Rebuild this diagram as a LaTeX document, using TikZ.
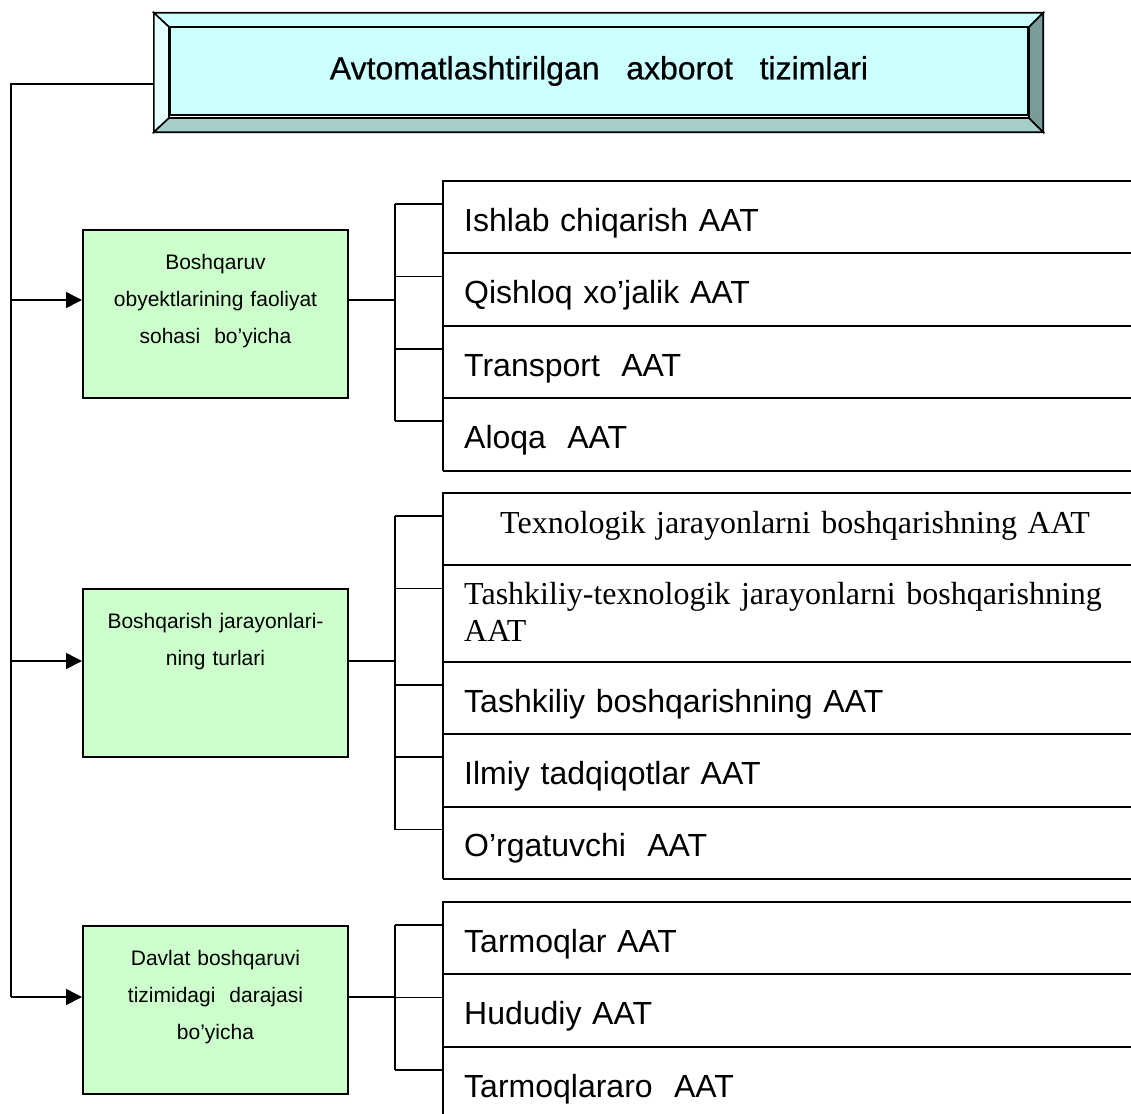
\documentclass[tikz,border=0pt]{standalone}
\usepackage{fontspec}
\setmainfont{Liberation Sans}
\newfontfamily\timesfont{Liberation Serif}
\newfontfamily\titlefont[FakeBold=0.6]{Liberation Sans}
\usetikzlibrary{positioning, calc, arrows.meta}
\definecolor{facecyan}{HTML}{CCFFFF}
\definecolor{bevlight}{HTML}{E6FFFF}
\definecolor{bevbottom}{HTML}{A6CFCC}
\definecolor{bevright}{HTML}{7A9C98}
\definecolor{boxgreen}{HTML}{CCFFCC}

\begin{document}
\begin{tikzpicture}[x=1pt, y=-1pt,
	line/.style={line width=1.6pt},
	arr/.style={line width=1.6pt, -{Triangle[length=16pt, width=16pt]}},
	bevel/.style={draw, line width=1.6pt},
	gbox/.style={draw, line width=2pt, fill=boxgreen, anchor=north west,
		text width=265pt, inner xsep=0pt, inner ysep=0pt,
		text height=39pt, text depth=129pt, align=center,
		font=\fontsize{21}{37}\selectfont},
	row/.style={anchor=north west, inner xsep=21pt, inner ysep=0pt,
		text width=646pt, text height=50pt, text depth=22pt, align=left,
		font=\fontsize{32}{38}\selectfont},
	trow/.style={row, font=\timesfont\fontsize{32}{37}\selectfont}]
	\useasboundingbox (0,0) rectangle (1131,1113);

	% title with bevelled frame
	\node[minimum width=889pt, minimum height=119pt] (frame) at (598.5,72.5) {};
	\node[draw, line width=2pt, fill=facecyan, minimum width=858pt, minimum height=89pt,
		font=\titlefont\fontsize{32}{38}\selectfont] (title) at (599,71)
		{Avtomatlashtirilgan\ \ \ axborot\ \ \ tizimlari};
	\filldraw[bevel, fill=facecyan] (frame.north west) -- (frame.north east) -- ($(title.north east)+(0,1.5)$) -- ($(title.north west)+(0,1.5)$) -- cycle;
	\filldraw[bevel, fill=bevlight] (frame.north west) -- ($(title.north west)+(0,1.5)$) -- ($(title.south west)+(0,1.5)$) -- (frame.south west) -- cycle;
	\filldraw[bevel, fill=bevbottom] (frame.south west) -- ($(title.south west)+(0,1.5)$) -- ($(title.south east)+(0,1.5)$) -- (frame.south east) -- cycle;
	\filldraw[bevel, fill=bevright] (frame.north east) -- (frame.south east) -- ($(title.south east)+(0,1.5)$) -- ($(title.north east)+(0,1.5)$) -- cycle;
	\draw[line width=2pt] ($(title.north west)+(0,1.5)$) rectangle ($(title.south east)+(0,1.5)$);

	% groups
	\node[gbox] (g1) at (82,229) {Boshqaruv\\obyektlarining faoliyat\\sohasi\ \ bo’yicha};
	\node[gbox] (g2) at (82,588) {Boshqarish jarayonlari-\\ning turlari};
	\node[gbox] (g3) at (82,925) {Davlat boshqaruvi\\tizimidagi\ \ darajasi\\bo’yicha};

	% lists
	\node[row] (r1a) at (443,181) {Ishlab chiqarish AAT};
	\node[row, below=0pt of r1a] (r1b) {Qishloq xo’jalik AAT};
	\node[row, below=0pt of r1b] (r1c) {Transport\ \ AAT};
	\node[row, below=0pt of r1c] (r1d) {Aloqa\ \ AAT};

	\node[trow, text height=40pt, text depth=32pt] (r2a) at (443,493)
		{\hspace*{36pt}Texnologik jarayonlarni boshqarishning AAT};
	\node[trow, text height=39pt, text depth=57pt, below=0pt of r2a] (r2b)
		{Tashkiliy-texnologik jarayonlarni boshqarishning\\AAT};
	\node[row, below=0pt of r2b] (r2c) {Tashkiliy boshqarishning AAT};
	\node[row, below=0pt of r2c] (r2d) {Ilmiy tadqiqotlar AAT};
	\node[row, below=0pt of r2d] (r2e) {O’rgatuvchi\ \ AAT};

	\node[row] (r3a) at (443,902) {Tarmoqlar AAT};
	\node[row, below=0pt of r3a] (r3b) {Hududiy AAT};
	\node[row, text depth=17pt, below=0pt of r3b] (r3c) {Tarmoqlararo\ \ AAT};

	\foreach \r in {r1a,r1b,r1c,r1d,r2a,r2b,r2c,r2d,r2e,r3a,r3b,r3c} {
		\draw[line width=2pt] (\r.north east) -- (\r.north west) -- (\r.south west);
		\draw[line] ($(\r.north west)+(0,23)$) -- ++(-48,0);
	}
	\draw[line width=2pt] (r1d.south west) -- (r1d.south east);
	\draw[line width=2pt] (r2e.south west) -- (r2e.south east);

	% brackets
	\draw[line] ($(r1a.north west)+(-48,23)$) -- ($(r1d.north west)+(-48,23)$);
	\draw[line] ($(r2a.north west)+(-48,23)$) -- ($(r2e.north west)+(-48,23)$);
	\draw[line] ($(r3a.north west)+(-48,23)$) -- ($(r3c.north west)+(-48,23)$);

	% connectors
	\coordinate (j1) at (395,300);
	\coordinate (j2) at (395,661);
	\coordinate (j3) at (395,997);
	\coordinate (bus) at (11,84);
	\draw[line] (frame.west |- bus) -- (bus) -- (bus |- j3);
	\foreach \gb/\jn in {g1/j1, g2/j2, g3/j3} {
		\draw[arr] (bus |- \jn) -- (\gb.west |- \jn);
		\draw[line] (\gb.east |- \jn) -- (\jn);
	}
\end{tikzpicture}
\end{document}
